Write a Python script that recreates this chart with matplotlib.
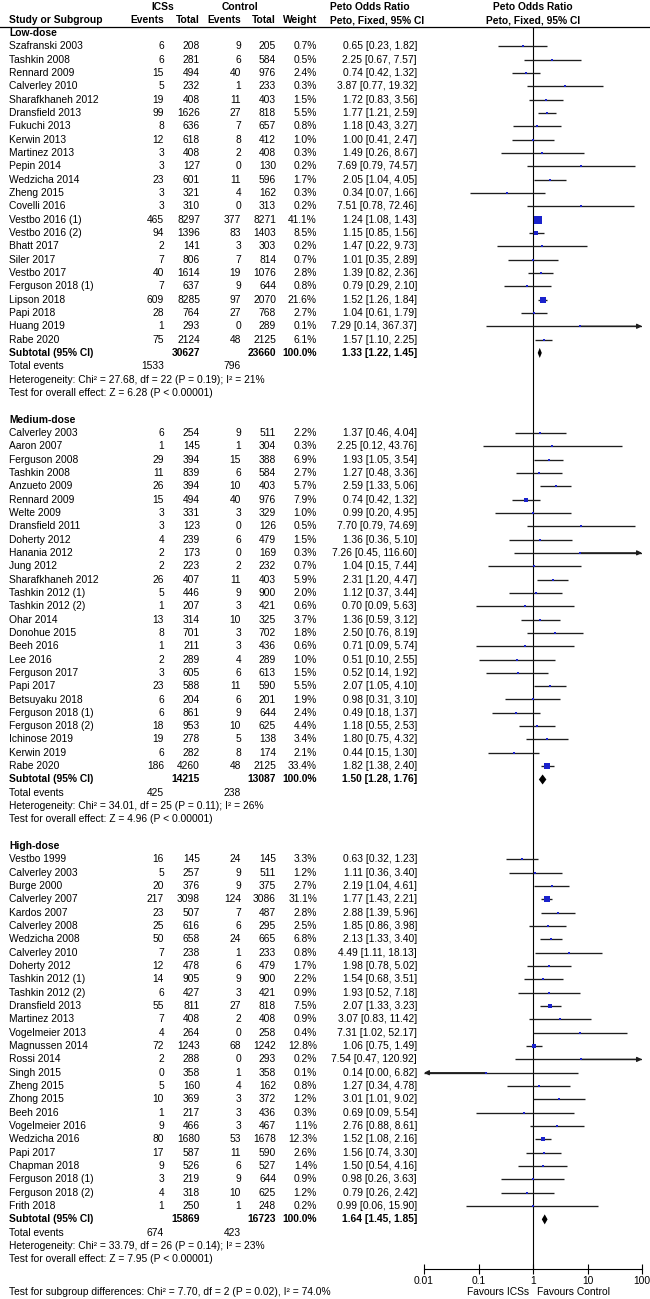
import matplotlib
matplotlib.use('Agg')
import matplotlib.pyplot as plt
from matplotlib.ticker import NullLocator
import numpy as np

plt.rcParams['font.family'] = ['Liberation Sans', 'DejaVu Sans']

# ---------------- data ----------------
low_studies = ["Szafranski 2003", "Tashkin 2008", "Rennard 2009", "Calverley 2010", "Sharafkhaneh 2012",
               "Dransfield 2013", "Fukuchi 2013", "Kerwin 2013", "Martinez 2013", "Pepin 2014",
               "Wedzicha 2014", "Zheng 2015", "Covelli 2016", "Vestbo 2016 (1)", "Vestbo 2016 (2)",
               "Bhatt 2017", "Siler 2017", "Vestbo 2017", "Ferguson 2018 (1)", "Lipson 2018",
               "Papi 2018", "Huang 2019", "Rabe 2020"]
low_ics_events = [6, 6, 15, 5, 19, 99, 8, 12, 3, 3, 23, 3, 3, 465, 94, 2, 7, 40, 7, 609, 28, 1, 75]
low_ics_total = [208, 281, 494, 232, 408, 1626, 636, 618, 408, 127, 601, 321, 310, 8297, 1396, 141, 806, 1614, 637, 8285, 764, 293, 2124]
low_ctl_events = [9, 6, 40, 1, 11, 27, 7, 8, 2, 0, 11, 4, 0, 377, 83, 3, 7, 19, 9, 97, 27, 0, 48]
low_ctl_total = [205, 584, 976, 233, 403, 818, 657, 412, 408, 130, 596, 162, 313, 8271, 1403, 303, 814, 1076, 644, 2070, 768, 289, 2125]
low_weight = [0.7, 0.5, 2.4, 0.3, 1.5, 5.5, 0.8, 1.0, 0.3, 0.2, 1.7, 0.3, 0.2, 41.1, 8.5, 0.2, 0.7, 2.8, 0.8, 21.6, 2.7, 0.1, 6.1]
low_or = [0.65, 2.25, 0.74, 3.87, 1.72, 1.77, 1.18, 1.00, 1.49, 7.69, 2.05, 0.34, 7.51, 1.24, 1.15, 1.47, 1.01, 1.39, 0.79, 1.52, 1.04, 7.29, 1.57]
low_lo = [0.23, 0.67, 0.42, 0.77, 0.83, 1.21, 0.43, 0.41, 0.26, 0.79, 1.04, 0.07, 0.78, 1.08, 0.85, 0.22, 0.35, 0.82, 0.29, 1.26, 0.61, 0.14, 1.10]
low_hi = [1.82, 7.57, 1.32, 19.32, 3.56, 2.59, 3.27, 2.47, 8.67, 74.57, 4.05, 1.66, 72.46, 1.43, 1.56, 9.73, 2.89, 2.36, 2.10, 1.84, 1.79, 367.37, 2.25]
low_subtotal = dict(ics_total=30627, ctl_total=23660, weight=100.0, orr=1.33, lo=1.22, hi=1.45,
                    ics_events=1533, ctl_events=796,
                    het="Heterogeneity: Chi\u00b2 = 27.68, df = 22 (P = 0.19); I\u00b2 = 21%",
                    test="Test for overall effect: Z = 6.28 (P < 0.00001)")

med_studies = ["Calverley 2003", "Aaron 2007", "Ferguson 2008", "Tashkin 2008", "Anzueto 2009", "Rennard 2009",
               "Welte 2009", "Dransfield 2011", "Doherty 2012", "Hanania 2012", "Jung 2012", "Sharafkhaneh 2012",
               "Tashkin 2012 (1)", "Tashkin 2012 (2)", "Ohar 2014", "Donohue 2015", "Beeh 2016", "Lee 2016",
               "Ferguson 2017", "Papi 2017", "Betsuyaku 2018", "Ferguson 2018 (1)", "Ferguson 2018 (2)",
               "Ichinose 2019", "Kerwin 2019", "Rabe 2020"]
med_ics_events = [6, 1, 29, 11, 26, 15, 3, 3, 4, 2, 2, 26, 5, 1, 13, 8, 1, 2, 3, 23, 6, 6, 18, 19, 6, 186]
med_ics_total = [254, 145, 394, 839, 394, 494, 331, 123, 239, 173, 223, 407, 446, 207, 314, 701, 211, 289, 605, 588, 204, 861, 953, 278, 282, 4260]
med_ctl_events = [9, 1, 15, 6, 10, 40, 3, 0, 6, 0, 2, 11, 9, 3, 10, 3, 3, 4, 6, 11, 6, 9, 10, 5, 8, 48]
med_ctl_total = [511, 304, 388, 584, 403, 976, 329, 126, 479, 169, 232, 403, 900, 421, 325, 702, 436, 289, 613, 590, 201, 644, 625, 138, 174, 2125]
med_weight = [2.2, 0.3, 6.9, 2.7, 5.7, 7.9, 1.0, 0.5, 1.5, 0.3, 0.7, 5.9, 2.0, 0.6, 3.7, 1.8, 0.6, 1.0, 1.5, 5.5, 1.9, 2.4, 4.4, 3.4, 2.1, 33.4]
med_or = [1.37, 2.25, 1.93, 1.27, 2.59, 0.74, 0.99, 7.70, 1.36, 7.26, 1.04, 2.31, 1.12, 0.70, 1.36, 2.50, 0.71, 0.51, 0.52, 2.07, 0.98, 0.49, 1.18, 1.80, 0.44, 1.82]
med_lo = [0.46, 0.12, 1.05, 0.48, 1.33, 0.42, 0.20, 0.79, 0.36, 0.45, 0.15, 1.20, 0.37, 0.09, 0.59, 0.76, 0.09, 0.10, 0.14, 1.05, 0.31, 0.18, 0.55, 0.75, 0.15, 1.38]
med_hi = [4.04, 43.76, 3.54, 3.36, 5.06, 1.32, 4.95, 74.69, 5.10, 116.60, 7.44, 4.47, 3.44, 5.63, 3.12, 8.19, 5.74, 2.55, 1.92, 4.10, 3.10, 1.37, 2.53, 4.32, 1.30, 2.40]
med_subtotal = dict(ics_total=14215, ctl_total=13087, weight=100.0, orr=1.50, lo=1.28, hi=1.76,
                    ics_events=425, ctl_events=238,
                    het="Heterogeneity: Chi\u00b2 = 34.01, df = 25 (P = 0.11); I\u00b2 = 26%",
                    test="Test for overall effect: Z = 4.96 (P < 0.00001)")

high_studies = ["Vestbo 1999", "Calverley 2003", "Burge 2000", "Calverley 2007", "Kardos 2007", "Calverley 2008",
                "Wedzicha 2008", "Calverley 2010", "Doherty 2012", "Tashkin 2012 (1)", "Tashkin 2012 (2)",
                "Dransfield 2013", "Martinez 2013", "Vogelmeier 2013", "Magnussen 2014", "Rossi 2014",
                "Singh 2015", "Zheng 2015", "Zhong 2015", "Beeh 2016", "Vogelmeier 2016", "Wedzicha 2016",
                "Papi 2017", "Chapman 2018", "Ferguson 2018 (1)", "Ferguson 2018 (2)", "Frith 2018"]
high_ics_events = [16, 5, 20, 217, 23, 25, 50, 7, 12, 14, 6, 55, 7, 4, 72, 2, 0, 5, 10, 1, 9, 80, 17, 9, 3, 4, 1]
high_ics_total = [145, 257, 376, 3098, 507, 616, 658, 238, 478, 905, 427, 811, 408, 264, 1243, 288, 358, 160, 369, 217, 466, 1680, 587, 526, 219, 318, 250]
high_ctl_events = [24, 9, 9, 124, 7, 6, 24, 1, 6, 9, 3, 27, 2, 0, 68, 0, 1, 4, 3, 3, 3, 53, 11, 6, 9, 10, 1]
high_ctl_total = [145, 511, 375, 3086, 487, 295, 665, 233, 479, 900, 421, 818, 408, 258, 1242, 293, 358, 162, 372, 436, 467, 1678, 590, 527, 644, 625, 248]
high_weight = [3.3, 1.2, 2.7, 31.1, 2.8, 2.5, 6.8, 0.8, 1.7, 2.2, 0.9, 7.5, 0.9, 0.4, 12.8, 0.2, 0.1, 0.8, 1.2, 0.3, 1.1, 12.3, 2.6, 1.4, 0.9, 1.2, 0.2]
high_or = [0.63, 1.11, 2.19, 1.77, 2.88, 1.85, 2.13, 4.49, 1.98, 1.54, 1.93, 2.07, 3.07, 7.31, 1.06, 7.54, 0.14, 1.27, 3.01, 0.69, 2.76, 1.52, 1.56, 1.50, 0.98, 0.79, 0.99]
high_lo = [0.32, 0.36, 1.04, 1.43, 1.39, 0.86, 1.33, 1.11, 0.78, 0.68, 0.52, 1.33, 0.83, 1.02, 0.75, 0.47, 0.00, 0.34, 1.01, 0.09, 0.88, 1.08, 0.74, 0.54, 0.26, 0.26, 0.06]
high_hi = [1.23, 3.40, 4.61, 2.21, 5.96, 3.98, 3.40, 18.13, 5.02, 3.51, 7.18, 3.23, 11.42, 52.17, 1.49, 120.92, 6.82, 4.78, 9.02, 5.54, 8.61, 2.16, 3.30, 4.16, 3.63, 2.42, 15.90]
high_subtotal = dict(ics_total=15869, ctl_total=16723, weight=100.0, orr=1.64, lo=1.45, hi=1.85,
                     ics_events=674, ctl_events=423,
                     het="Heterogeneity: Chi\u00b2 = 33.79, df = 26 (P = 0.14); I\u00b2 = 23%",
                     test="Test for overall effect: Z = 7.95 (P < 0.00001)")

group_names = ["Low-dose", "Medium-dose", "High-dose"]
subgroup_test = "Test for subgroup differences: Chi\u00b2 = 7.70, df = 2 (P = 0.02), I\u00b2 = 74.0%"
tick_values = [0.01, 0.1, 1, 10, 100]
tick_labels = ["0.01", "0.1", "1", "10", "100"]
favours_left = "Favours ICSs"
favours_right = "Favours Control"

groups = [
    (low_studies, low_ics_events, low_ics_total, low_ctl_events, low_ctl_total, low_weight, low_or, low_lo, low_hi, low_subtotal),
    (med_studies, med_ics_events, med_ics_total, med_ctl_events, med_ctl_total, med_weight, med_or, med_lo, med_hi, med_subtotal),
    (high_studies, high_ics_events, high_ics_total, high_ctl_events, high_ctl_total, high_weight, high_or, high_lo, high_hi, high_subtotal),
]

# ---------------- layout ----------------
W, H = 650, 1299
FS = 7.4
BLUE = '#1a22cc'
LINE = '#1e1e1e'
X_NAME, X_EV1, X_TOT1, X_EV2, X_TOT2, X_W, X_CI = 9, 164, 200, 241, 276, 317, 417
ROW0, DY = 33.0, 13.33
AX_L, AX_R, AX_TOP, AX_BOT = 424, 642, 27, 1269

fig = plt.figure(figsize=(W / 100, H / 100), dpi=100)
tax = fig.add_axes([0, 0, 1, 1])
tax.set_xlim(0, W)
tax.set_ylim(H, 0)
tax.axis('off')

fax = fig.add_axes([AX_L / W, (H - AX_BOT) / H, (AX_R - AX_L) / W, (AX_BOT - AX_TOP) / H])
fax.set_xscale('log')
fax.set_xlim(tick_values[0], tick_values[-1])
fax.set_ylim(AX_BOT, AX_TOP)
fax.patch.set_alpha(0)
for s in ['top', 'right', 'left']:
    fax.spines[s].set_visible(False)
fax.spines['bottom'].set_linewidth(0.8)
fax.set_yticks([])
fax.set_xticks(tick_values)
fax.set_xticklabels(tick_labels)
fax.xaxis.set_minor_locator(NullLocator())
fax.tick_params(axis='x', direction='inout', length=7, width=0.8, labelsize=FS, pad=1.5)
fax.axvline(1, color='black', lw=0.8)


def txt(x, y, s, ha='left', bold=False):
    tax.text(x, y, s, ha=ha, va='center', fontsize=FS, fontweight='bold' if bold else 'normal', color='black')


# header
txt(163, 7, "ICSs", ha='center', bold=True)
txt(240, 7, "Control", ha='center', bold=True)
txt(330, 7, "Peto Odds Ratio", bold=True)
txt(533, 7, "Peto Odds Ratio", ha='center', bold=True)
txt(X_NAME, 20, "Study or Subgroup", bold=True)
txt(X_EV1, 20, "Events", ha='right', bold=True)
txt(X_TOT1, 20, "Total", ha='right', bold=True)
txt(X_EV2, 20, "Events", ha='right', bold=True)
txt(X_TOT2, 20, "Total", ha='right', bold=True)
txt(X_W, 20, "Weight", ha='right', bold=True)
txt(330, 20, "Peto, Fixed, 95% CI", bold=True)
txt(533, 20, "Peto, Fixed, 95% CI", ha='center', bold=True)
tax.axhline(AX_TOP, color='black', lw=0.9)

xmin, xmax = fax.get_xlim()


def draw_study(y, est, lo, hi, w):
    lo_c = max(lo, xmin)
    hi_c = min(hi, xmax)
    fax.plot([lo_c, hi_c], [y, y], color=LINE, lw=0.95, solid_capstyle='butt')
    if hi > xmax:
        fax.annotate('', xy=(xmax, y), xytext=(est, y),
                     arrowprops=dict(arrowstyle='-|>', color=LINE, lw=0.95, mutation_scale=7,
                                     shrinkA=0, shrinkB=0))
    if lo < xmin:
        fax.annotate('', xy=(xmin, y), xytext=(est, y),
                     arrowprops=dict(arrowstyle='-|>', color=LINE, lw=0.95, mutation_scale=7,
                                     shrinkA=0, shrinkB=0))
    side = max(2.0, 11.0 * np.sqrt(w / 100.0))
    fax.plot([est], [y], marker='s', ms=side * 0.72, color=BLUE, mec=BLUE, mew=0, zorder=5)


r = 0
for gname, g in zip(group_names, groups):
    studies, e1, t1, e2, t2, wts, ors, los, his, sub = g
    y = ROW0 + DY * r
    txt(X_NAME, y, gname, bold=True)
    r += 1
    for i, name in enumerate(studies):
        y = ROW0 + DY * r
        txt(X_NAME, y, name)
        txt(X_EV1, y, f"{e1[i]}", ha='right')
        txt(X_TOT1, y, f"{t1[i]}", ha='right')
        txt(X_EV2, y, f"{e2[i]}", ha='right')
        txt(X_TOT2, y, f"{t2[i]}", ha='right')
        txt(X_W, y, f"{wts[i]:.1f}%", ha='right')
        txt(X_CI, y, f"{ors[i]:.2f} [{los[i]:.2f}, {his[i]:.2f}]", ha='right')
        draw_study(y, ors[i], los[i], his[i], wts[i])
        r += 1
    # subtotal
    y = ROW0 + DY * r
    txt(X_NAME, y, "Subtotal (95% CI)", bold=True)
    txt(X_TOT1, y, f"{sub['ics_total']}", ha='right', bold=True)
    txt(X_TOT2, y, f"{sub['ctl_total']}", ha='right', bold=True)
    txt(X_W, y, f"{sub['weight']:.1f}%", ha='right', bold=True)
    txt(X_CI, y, f"{sub['orr']:.2f} [{sub['lo']:.2f}, {sub['hi']:.2f}]", ha='right', bold=True)
    fax.fill([sub['lo'], sub['orr'], sub['hi'], sub['orr']], [y, y - 5, y, y + 5], color='black', lw=0, zorder=5)
    r += 1
    y = ROW0 + DY * r
    txt(X_NAME, y, "Total events")
    txt(X_EV1, y, f"{sub['ics_events']}", ha='right')
    txt(X_EV2, y, f"{sub['ctl_events']}", ha='right')
    r += 1
    txt(X_NAME, ROW0 + DY * r, sub['het'])
    r += 1
    txt(X_NAME, ROW0 + DY * r, sub['test'])
    r += 2

txt(X_NAME, 1292, subgroup_test)
txt(529, 1292, favours_left, ha='right')
txt(537, 1292, favours_right, ha='left')

fig.savefig('out.png', dpi=100)
